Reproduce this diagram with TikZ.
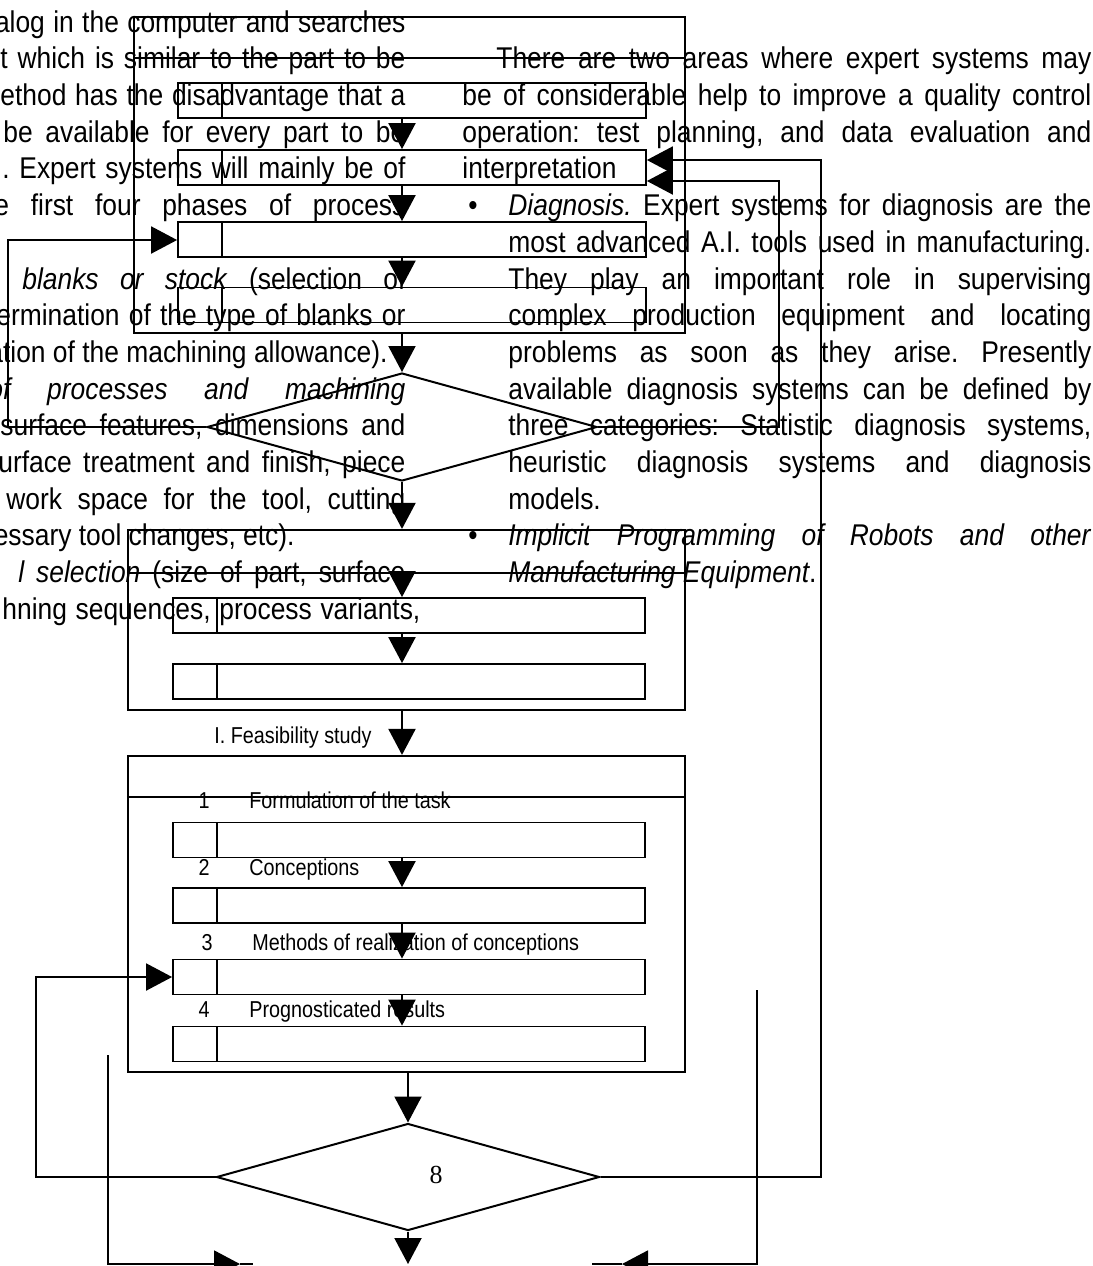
\documentclass[tikz,border=0pt]{standalone}
\usepackage{fontspec}
\newfontfamily\bodyfont{Liberation Sans}[FakeStretch=0.88]
\newfontfamily\chartfont{Liberation Sans}[FakeStretch=0.86]
\newfontfamily\digitfont{Liberation Serif}
\usetikzlibrary{shapes.geometric, arrows.meta, positioning}
\newdimen\pxu \pxu=0.5pt
\newcommand\jline[2]{\hbox to #1\pxu{\spaceskip=.28em plus 2em minus .16em\relax\hskip 0pt minus 1fil #2}}
\frenchspacing

\tikzset{
  txt/.style={inner sep=0pt, anchor=base west, font=\bodyfont\fontsize{15pt}{18pt}\selectfont},
  lbl/.style={inner sep=0pt, anchor=base west, font=\chartfont\fontsize{11.5pt}{14pt}\selectfont},
  frame/.style={draw, line width=1.1pt, inner sep=0pt},
  cell/.style={draw, line width=0.9pt, inner sep=0pt, minimum height=17.5pt,
    path picture={\draw[line width=0.9pt] ([xshift=22pt]path picture bounding box.north west) -- ([xshift=22pt]path picture bounding box.south west);}},
  choice/.style={draw, diamond, line width=1pt, inner sep=0pt},
  arr/.style={line width=1pt, -{Triangle[length=13pt,width=13.5pt]}},
  wire/.style={line width=1pt},
}

\begin{document}
\begin{tikzpicture}[x=0.5pt, y=-0.5pt]
    \useasboundingbox (0,0) rectangle (1093,1266);
    \clip (0,0) rectangle (1093,1266);

    \node[txt] (l0) at (0,32) {\jline{405}{alog in the computer and searches}};
    \node[txt] (l1) at (0,68) {\jline{405}{t which is similar to the part to be}};
    \node[txt] (l2) at (0,105) {\jline{405}{ethod has the disadvantage that a}};
    \node[txt] (l3) at (3,142) {\jline{402}{be available for every part to be}};
    \node[txt] (l4) at (2,178) {\jline{403}{. Expert systems will mainly be of}};
    \node[txt] (l5) at (-6,215) {\jline{411}{e first four phases of process}};
    \node[txt] (l7) at (22,289) {\jline{383}{\textit{blanks or stock} (selection of}};
    \node[txt] (l8) at (-4,325) {\jline{409}{ermination of the type of blanks or}};
    \node[txt, anchor=base east] (l9) at (388,362) {ation of the machining allowance).};
    \node[txt] (l10) at (-12,399) {\jline{417}{\textit{of processes and machining}}};
    \node[txt] (l11) at (0,435) {\jline{405}{surface features, dimensions and}};
    \node[txt] (l12) at (-2,472) {\jline{407}{urface treatment and finish, piece}};
    \node[txt] (l13) at (6,509) {\jline{399}{l work space for the tool, cutting}};
    \node[txt, anchor=base east] (l14) at (295,545) {essary tool changes, etc).};
    \node[txt] (l15) at (18,582) {\jline{387}{\textit{l selection} (size of part, surface}};
    \node[txt] (l16) at (2,619) {\jline{418}{hning sequences, process variants,}};

    \node[txt] (r1) at (496,68) {\jline{595}{There are two areas where expert systems may}};
    \node[txt] (r2) at (462,105) {\jline{629}{be of considerable help to improve a quality control}};
    \node[txt] (r3) at (462,142) {\jline{629}{operation: test planning, and data evaluation and}};
    \node[txt] (r4) at (462,178) {interpretation};
    \node[txt] (u5) at (468,215) {•};
    \node[txt] (r5) at (508,215) {\jline{583}{\textit{Diagnosis.} Expert systems for diagnosis are the}};
    \node[txt] (r6) at (508,252) {\jline{583}{most advanced A.I. tools used in manufacturing.}};
    \node[txt] (r7) at (508,289) {\jline{583}{They play an important role in supervising}};
    \node[txt] (r8) at (508,325) {\jline{583}{complex production equipment and locating}};
    \node[txt] (r9) at (508,362) {\jline{583}{problems as soon as they arise. Presently}};
    \node[txt] (r10) at (508,399) {\jline{583}{available diagnosis systems can be defined by}};
    \node[txt] (r11) at (508,435) {\jline{583}{three categories: Statistic diagnosis systems,}};
    \node[txt] (r12) at (508,472) {\jline{583}{heuristic diagnosis systems and diagnosis}};
    \node[txt] (r13) at (508,509) {models.};
    \node[txt] (u14) at (468,545) {•};
    \node[txt] (r14) at (508,545) {\jline{583}{\textit{Implicit Programming of Robots and other}}};
    \node[txt] (r15) at (508,582) {\textit{Manufacturing Equipment}.};

    \path (0,58) coordinate (hA);
    \path (0,573) coordinate (hB);
    \path (0,797) coordinate (hC);

    \node[frame, minimum width=275.5pt, minimum height=158pt] (A) at (409.5,175) {};
    \node[frame, minimum width=278.5pt, minimum height=90pt] (B) at (406.5,620) {};
    \node[frame, minimum width=278.5pt, minimum height=158pt] (C) at (406.5,914) {};
    \draw[wire] (A.west |- hA) -- (A.east |- hA);
    \draw[wire] (B.west |- hB) -- (B.east |- hB);
    \draw[wire] (C.west |- hC) -- (C.east |- hC);

    \node[cell, minimum width=234pt] (b1) at (412,100.5) {};
    \node[cell, minimum width=234pt] (b2) at (412,167.5) {};
    \node[cell, minimum width=234pt] (b3) at (412,239.5) {};
    \node[cell, minimum width=234pt] (b4) at (412,305) {};

    \node[cell, minimum width=236pt] (c1) at (409,615.5) {};
    \node[cell, minimum width=236pt] (c2) at (409,681.5) {};
    \node[cell, minimum width=236pt] (c3) at (409,840) {};
    \node[cell, minimum width=236pt] (c4) at (409,905.5) {};
    \node[cell, minimum width=236pt] (c5) at (409,977) {};
    \node[cell, minimum width=236pt] (c6) at (409,1044) {};

    \node[choice, minimum width=195pt, minimum height=54pt] (D1) at (402,427) {};
    \node[choice, minimum width=191.5pt, minimum height=53.5pt] (D2) at (408,1177) {};
    \node[font=\digitfont\fontsize{13pt}{15pt}\selectfont, inner sep=0pt] (n8) at (436,1175) {8};

    \node[lbl, anchor=base east] (fs) at (372,743) {I. Feasibility study};
    \node[lbl, anchor=base] (n1) at (204,808) {1};
    \node[lbl] (s1) at (249,808) {Formulation of the task};
    \node[lbl, anchor=base] (n2) at (204,875) {2};
    \node[lbl] (s2) at (249,875) {Conceptions};
    \node[lbl, anchor=base] (n3) at (207,950) {3};
    \node[lbl] (s3) at (252,950) {Methods of realization of conceptions};
    \node[lbl, anchor=base] (n4) at (204,1017) {4};
    \node[lbl] (s4) at (249,1017) {Prognosticated results};

    \draw[arr] (b1.south -| D1) -- (b2.north -| D1);
    \draw[arr] (b2.south -| D1) -- (b3.north -| D1);
    \draw[arr] (b3.south -| D1) -- (b4.north -| D1);
    \draw[arr] (A.south -| D1) -- (D1.north);
    \draw[arr] (D1.south) -- (B.north -| D1);
    \draw[arr] (hB -| D1) -- (c1.north -| D1);
    \draw[arr] (c1.south -| D1) -- (c2.north -| D1);
    \draw[arr] (B.south -| D1) -- (C.north -| D1);
    \draw[arr] (c3.south -| D1) -- (c4.north -| D1);
    \draw[arr] (c4.south -| D1) -- (c5.north -| D1);
    \draw[arr] (c5.south -| D1) -- (c6.north -| D1);
    \draw[arr] (C.south -| D2) -- (D2.north);

    \path (8,240) coordinate (kL);
    \path (779,181) coordinate (kR);
    \path (821,160) coordinate (kS);
    \path (36,977) coordinate (kT);
    \draw[arr] (D1.west) -| (kL) -- (kL -| b3.west);
    \draw[arr] (D1.east) -| (kR) -- (kR -| b2.east);
    \draw[arr] (D2.east) -| (kS) -- (kS -| b2.east);
    \draw[arr] (D2.west) -| (kT) -- (kT -| c5.west);

    \path (108,1055) coordinate (e1);
    \path (240,1264) coordinate (e2);
    \path (253,1264) coordinate (e3);
    \path (757,990) coordinate (e4);
    \path (622,1264) coordinate (e5);
    \path (592,1264) coordinate (e6);
    \draw[arr] (e1) |- (e2);
    \draw[wire] (e2) -- (e3);
    \draw[arr] (e4) |- (e5);
    \draw[wire] (e5) -- (e6);
    \draw[arr] (D2.south) -- (D2.south |- e2);
\end{tikzpicture}
\end{document}
